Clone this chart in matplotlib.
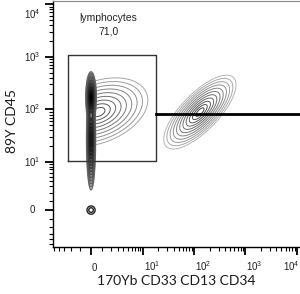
import numpy as np
import matplotlib
matplotlib.use("Agg")
import matplotlib.pyplot as plt

plt.rcParams['mathtext.fontset'] = 'custom'
plt.rcParams['mathtext.rm'] = 'Liberation Sans'
plt.rcParams['font.family'] = ['Liberation Sans', 'DejaVu Sans']

# biexponential-like display: asinh scale with a linear region near zero
x_width, y_width = 2.0, 2.44
x_lim = (-5.3, 11450)
y_lim = (-5.9, 11760)

major_ticks = [0, 10, 100, 1000, 10000]
major_labels = ['0', r'$\mathregular{10^{1}}$', r'$\mathregular{10^{2}}$',
                r'$\mathregular{10^{3}}$', r'$\mathregular{10^{4}}$']
minor_ticks = ([-5, -4, -3, -2, -1] + list(range(1, 10))
               + [20, 30, 40, 50, 60, 70, 80, 90]
               + [200, 300, 400, 500, 600, 700, 800, 900]
               + [2000, 3000, 4000, 5000, 6000, 7000, 8000, 9000])

# gate "lymphocytes" and the horizontal separator
gate_x = [-2.5, 18.0]
gate_y = [10.5, 1100.0]
gate_name = "lymphocytes"
gate_pct = "71,0"
split_y = 81.5

# populations: centre in data units, spread in decades (sx, sy), correlation
pop_cx = {'streak_top': 0.0, 'streak_low': 0.0, 'lymph': 0.66, 'myelo': 130.0, 'dot': 0.0}
pop_cy = {'streak_top': 172.0, 'streak_low': 27.0, 'lymph': 89.0, 'myelo': 89.0, 'dot': 0.0}
pop_sx = {'streak_top': 0.034, 'streak_low': 0.03, 'lymph': 0.37, 'myelo': 0.27, 'dot': 0.035}
pop_sy = {'streak_top': 0.16, 'streak_low': 0.33, 'lymph': 0.25, 'myelo': 0.27, 'dot': 0.035}
pop_rho = {'streak_top': 0.0, 'streak_low': 0.0, 'lymph': 0.35, 'myelo': 0.74, 'dot': 0.0}


def to_dec(v, w):
    return np.arcsinh(np.asarray(v) / w) / np.log(10)


def from_dec(p, w):
    return w * np.sinh(p * np.log(10))


def gauss(PX, PY, name):
    cx = to_dec(pop_cx[name], x_width)
    cy = to_dec(pop_cy[name], y_width)
    dx = (PX - cx) / pop_sx[name]
    dy = (PY - cy) / pop_sy[name]
    r = pop_rho[name]
    q = (dx ** 2 - 2 * r * dx * dy + dy ** 2) / (1 - r ** 2)
    return np.exp(-0.5 * q)


fig = plt.figure(figsize=(3.0, 2.94), dpi=100)
ax = fig.add_axes([53 / 300, 47 / 294, 247 / 300, 246.5 / 294])
ax.set_xscale('asinh', linear_width=x_width)
ax.set_yscale('asinh', linear_width=y_width)
ax.set_xlim(*x_lim)
ax.set_ylim(*y_lim)

px = np.linspace(to_dec(x_lim[0], x_width), to_dec(x_lim[1], x_width), 1000)
py = np.linspace(to_dec(y_lim[0], y_width), to_dec(y_lim[1], y_width), 1000)
PX, PY = np.meshgrid(px, py)
VX, VY = from_dec(PX, x_width), from_dec(PY, y_width)

# lymphocyte body, cut off where it meets the pile-up at zero
z = gauss(PX, PY, 'lymph')
z[PX < 0.06] = 0
lv = np.sort(np.exp(-0.5 * np.linspace(2.6, 0.35, 9) ** 2))
greys = plt.cm.Greys(np.linspace(0.45, 0.75, len(lv)))
ax.contour(VX, VY, z, levels=lv * z.max(), colors=greys, linewidths=0.7)

# myeloid blasts
z = gauss(PX, PY, 'myelo')
lv = np.sort(np.exp(-0.5 * np.linspace(2.6, 0.3, 11) ** 2))
greys = plt.cm.Greys(np.linspace(0.4, 0.8, len(lv)))
ax.contour(VX, VY, z, levels=lv * z.max(), colors=greys, linewidths=0.7)

# pile-up streak on zero
z = gauss(PX, PY, 'streak_top') + 0.8 * gauss(PX, PY, 'streak_low')
lv = np.sort(np.exp(-0.5 * np.linspace(3.0, 0.2, 18) ** 2))
greys = plt.cm.Greys(np.linspace(0.65, 1.0, len(lv)))
ax.contour(VX, VY, z, levels=lv * z.max(), colors=greys, linewidths=1.0)

# debris at origin
z = gauss(PX, PY, 'dot')
ax.contour(VX, VY, z, levels=[0.08, 0.45], colors='#222222', linewidths=1.0)

# gate and separator
ax.plot([gate_x[0], gate_x[1], gate_x[1], gate_x[0], gate_x[0]],
        [gate_y[0], gate_y[0], gate_y[1], gate_y[1], gate_y[0]],
        color='#333333', lw=1.0)
ax.plot([gate_x[1], x_lim[1]], [split_y, split_y], color='black', lw=2.0)

ax.text(0.225, 0.93, gate_name, transform=ax.transAxes, ha='center', va='center',
        fontsize=7.5, color='#222222')
ax.text(0.225, 0.875, gate_pct, transform=ax.transAxes, ha='center', va='center',
        fontsize=7.5, color='#222222')

# spines and ticks
ax.spines['right'].set_visible(False)
ax.spines['top'].set_color('#888888')
for s in ['left', 'bottom']:
    ax.spines[s].set_color('black')
    ax.spines[s].set_linewidth(1.0)

for axis in [ax.xaxis, ax.yaxis]:
    axis.set_ticks(major_ticks)
    axis.set_ticks(minor_ticks, minor=True)
    axis.set_ticklabels([])
ax.tick_params(which='major', length=6, width=1.3, color='black')
ax.tick_params(which='minor', length=3, width=0.8, color='black')

for v, lab in zip(major_ticks, major_labels):
    if v == 10000:
        ax.annotate(lab, xy=(0, v), xycoords=('axes fraction', 'data'),
                    xytext=(-21, -10), textcoords='offset pixels',
                    ha='center', va='center', fontsize=7, color='#222222',
                    annotation_clip=False)
        ax.annotate(lab, xy=(v, 0), xycoords=('data', 'axes fraction'),
                    xytext=(3, -24), textcoords='offset pixels',
                    ha='right', va='baseline', fontsize=7, color='#222222',
                    annotation_clip=False)
    else:
        ax.annotate(lab, xy=(0, v), xycoords=('axes fraction', 'data'),
                    xytext=(-21, 0), textcoords='offset pixels',
                    ha='center', va='center', fontsize=7, color='#222222',
                    annotation_clip=False)
        ax.annotate(lab, xy=(v, 0), xycoords=('data', 'axes fraction'),
                    xytext=(1, -24), textcoords='offset pixels',
                    ha='left', va='baseline', fontsize=7, color='#222222',
                    annotation_clip=False)

fig.text(176 / 300, 1 - 281 / 294, "170Yb CD33 CD13 CD34", ha='center', va='center',
         fontsize=10, family='Lato', color='#1a1a1a')
fig.text(12 / 300, 1 - 121 / 294, "89Y CD45", ha='center', va='center', rotation=90,
         fontsize=10, family='Lato', color='#1a1a1a')

fig.savefig("out.png", dpi=100)
